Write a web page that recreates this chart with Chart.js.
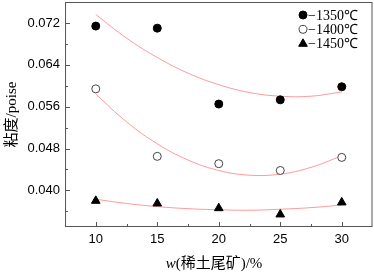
<!DOCTYPE html>
<html>
<head>
<meta charset="utf-8">
<script src="https://cdn.jsdelivr.net/npm/chart.js@4"></script>
<style>
  html, body { margin: 0; padding: 0; background: #fff; }
  #wrap { width: 374px; height: 274px; }
</style>
</head>
<body>
<div id="wrap"><canvas id="mycanvas" width="374" height="274"></canvas></div>
<script>
// measured points
const xValues = [10, 15, 20, 25, 30];
const visc1350 = [0.0714, 0.0710, 0.0565, 0.0573, 0.0598];
const visc1400 = [0.0594, 0.0465, 0.0451, 0.0438, 0.0463];
const visc1450 = [0.0380, 0.0375, 0.0366, 0.0354, 0.0377];

// fitted curves
const fitX = [10, 12.5, 15, 17.5, 20, 22.5, 25, 27.5, 30];
const fit1350 = [0.0736, 0.0691, 0.0654, 0.0624, 0.0602, 0.0587, 0.0580, 0.0580, 0.0588];
const fit1400 = [0.0584, 0.0531, 0.0489, 0.0458, 0.0438, 0.0429, 0.0431, 0.0444, 0.0466];
const fit1450 = [0.0383, 0.0375, 0.0369, 0.0365, 0.0363, 0.0362, 0.0364, 0.0367, 0.0372];

const seriesLabels = ["−1350℃", "−1400℃", "−1450℃"];
const xTicks = [10, 15, 20, 25, 30];
const xMinor = [12.5, 17.5, 22.5, 27.5];
const yTicks = [0.040, 0.048, 0.056, 0.064, 0.072];
const yMinor = [0.036, 0.044, 0.052, 0.060, 0.068];

function pts(xs, ys) {
  return xs.map((x, i) => ({ x: x, y: ys[i] }));
}

let fitColor = "rgba(255, 120, 120, 0.75)";
let frameColor = "#555";

let datasets = [
  { label: seriesLabels[0], data: pts(xValues, visc1350), pointStyle: "circle",
    pointRadius: 4, backgroundColor: "#000", borderColor: "#000", borderWidth: 1 },
  { label: seriesLabels[1], data: pts(xValues, visc1400), pointStyle: "circle",
    pointRadius: 4, backgroundColor: "#fff", borderColor: "#444", borderWidth: 1 },
  { label: seriesLabels[2], data: pts(xValues, visc1450), pointStyle: "triangle",
    pointRadius: 5, backgroundColor: "#000", borderColor: "#000", borderWidth: 1 },
  { data: pts(fitX, fit1350), showLine: true, pointRadius: 0, borderColor: fitColor, borderWidth: 1, tension: 0.4 },
  { data: pts(fitX, fit1400), showLine: true, pointRadius: 0, borderColor: fitColor, borderWidth: 1, tension: 0.4 },
  { data: pts(fitX, fit1450), showLine: true, pointRadius: 0, borderColor: fitColor, borderWidth: 1, tension: 0.4 },
];

// frame, inward ticks, titles and legend
let decorPlugin = {
  id: "decor",
  afterDraw(chart) {
    let ctx = chart.ctx;
    let a = chart.chartArea;
    let xs = chart.scales.x, ys = chart.scales.y;
    ctx.save();
    ctx.strokeStyle = frameColor;
    ctx.lineWidth = 1;
    ctx.strokeRect(a.left + 0.5, a.top + 0.5, a.right - a.left - 1, a.bottom - a.top - 1);

    ctx.beginPath();
    xTicks.concat(xMinor).forEach(v => {
      let px = Math.round(xs.getPixelForValue(v)) + 0.5;
      let len = xTicks.includes(v) ? 5 : 3;
      ctx.moveTo(px, a.bottom); ctx.lineTo(px, a.bottom - len);
    });
    yTicks.concat(yMinor).forEach(v => {
      let py = Math.round(ys.getPixelForValue(v)) + 0.5;
      let len = yTicks.includes(v) ? 5 : 3;
      ctx.moveTo(a.left, py); ctx.lineTo(a.left + len, py);
    });
    ctx.stroke();

    // y title
    ctx.fillStyle = "#000";
    ctx.font = "15px 'Liberation Serif', 'Noto Sans CJK SC', serif";
    ctx.textAlign = "center";
    ctx.textBaseline = "middle";
    ctx.translate(12, (a.top + a.bottom) / 2);
    ctx.rotate(-Math.PI / 2);
    ctx.fillText("粘度/poise", 0, 0);
    ctx.setTransform(1, 0, 0, 1, 0, 0);

    // x title with italic w
    let t1 = "w", t2 = "(稀土尾矿)/%";
    let f1 = "italic 15px 'Liberation Serif', serif";
    let f2 = "15px 'Liberation Serif', 'Noto Sans CJK SC', serif";
    ctx.font = f1; let w1 = ctx.measureText(t1).width;
    ctx.font = f2; let w2 = ctx.measureText(t2).width;
    let x0 = 214 - (w1 + w2) / 2;
    ctx.textAlign = "left";
    ctx.font = f1; ctx.fillText(t1, x0, 264);
    ctx.font = f2; ctx.fillText(t2, x0 + w1, 264);

    // legend
    for (let i = 0; i < 3; i++) {
      let ds = chart.data.datasets[i];
      let y = 15 + i * 14.4;
      ctx.fillStyle = ds.backgroundColor;
      ctx.strokeStyle = ds.borderColor;
      ctx.lineWidth = 1;
      Chart.helpers.drawPoint(ctx, {
        pointStyle: ds.pointStyle, radius: ds.pointRadius, borderWidth: 1
      }, 303, y);
      ctx.fillStyle = "#000";
      ctx.font = "14px 'Liberation Serif', serif";
      ctx.textAlign = "left";
      ctx.textBaseline = "middle";
      ctx.fillText(ds.label, 308, y + 1);
    }
    ctx.restore();
  }
};

let canvas = document.getElementById("mycanvas");
let chart = new Chart(canvas, {
  type: "scatter",
  data: { datasets: datasets },
  options: {
    responsive: false,
    animation: false,
    devicePixelRatio: 1,
    layout: { autoPadding: false, padding: { left: 22.5, right: 1.5, top: 2, bottom: 21.4 } },
    plugins: { legend: { display: false }, tooltip: { enabled: false } },
    scales: {
      x: {
        type: "linear", min: 7.5, max: 32.5,
        afterBuildTicks: s => { s.ticks = xTicks.map(v => ({ value: v })); },
        afterFit: s => { s.paddingLeft = 0; s.paddingRight = 0; },
        grid: { display: false, drawTicks: false },
        border: { display: false },
        ticks: { color: "#000", padding: 5, font: { family: "'Liberation Sans', Arial", size: 13 } },
      },
      y: {
        type: "linear", min: 0.033, max: 0.076,
        afterBuildTicks: s => { s.ticks = yTicks.map(v => ({ value: v })); },
        afterFit: s => { s.paddingTop = 0; s.paddingBottom = 0; },
        grid: { display: false, drawTicks: false },
        border: { display: false },
        ticks: { color: "#000", padding: 5, font: { family: "'Liberation Sans', Arial", size: 13 },
          callback: v => v.toFixed(3) },
      },
    },
  },
  plugins: [decorPlugin],
});
</script>
</body>
</html>
